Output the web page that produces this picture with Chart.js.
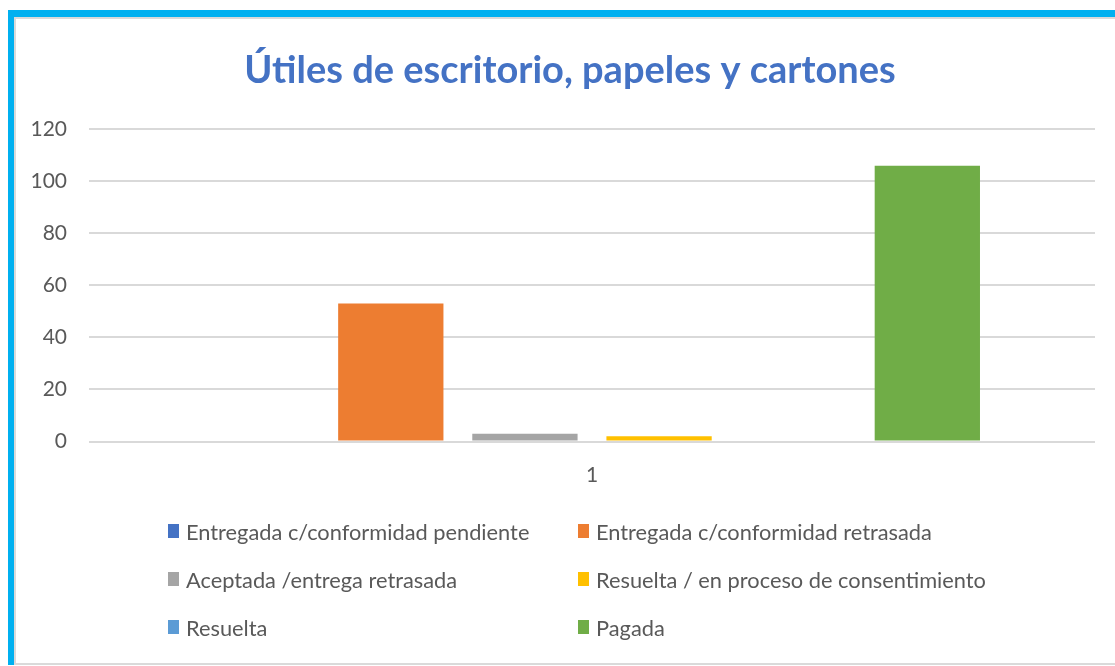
<!DOCTYPE html>
<html>
<head>
<meta charset="utf-8">
<script src="https://cdn.jsdelivr.net/npm/chart.js@4.4.0/dist/chart.umd.min.js"></script>
<style>
  html, body { margin:0; padding:0; background:#fff; }
  #wrap { position:relative; width:1115px; height:666px; overflow:hidden; background:#fff; }
  .frame { position:absolute; left:8px; top:10px; width:1120px; height:648px;
           border-left:6px solid #00B0F0; border-top:7px solid #00B0F0; }
  .frame .inner { position:absolute; left:0; top:0; right:0; bottom:0;
           border-left:2px solid #dadada; border-top:2px solid #dadada; border-bottom:2px solid #dadada; }
  canvas { position:absolute; left:0; top:0; }
  #legend { position:absolute; left:168px; top:517px; font-family:Lato, sans-serif; font-size:21.8px; color:#595959; }
  .item { position:absolute; display:flex; align-items:center; height:28px; white-space:nowrap; }
  .sw { width:11px; height:14px; margin-right:7px; flex:none; }
</style>
</head>
<body>
<div id="wrap">
  <div class="frame"><div class="inner"></div></div>
  <canvas id="c" width="1115" height="666"></canvas>
  <div id="legend"></div>
</div>
<script>
const categories = ['1'];
const seriesNames = [
  'Entregada c/conformidad pendiente',
  'Entregada c/conformidad retrasada',
  'Aceptada /entrega retrasada',
  'Resuelta / en proceso de consentimiento',
  'Resuelta',
  'Pagada'
];
const seriesValues = [0, 53, 3, 2, 0, 106];
const seriesColors = ['#4472C4', '#ED7D31', '#A5A5A5', '#FFC000', '#5B9BD5', '#70AD47'];
const yMin = 0, yMax = 120, yStep = 20;
const titleText = 'Útiles de escritorio, papeles y cartones';

const datasets = seriesNames.map((n, i) => ({
  label: n,
  data: [seriesValues[i]],
  backgroundColor: seriesColors[i],
  borderWidth: 0,
  categoryPercentage: 0.8,
  barPercentage: 0.785
}));

const titlePlugin = {
  id: 'titleAt',
  afterDraw(chart) {
    const ctx = chart.ctx;
    ctx.save();
    ctx.font = 'bold 38px Lato';
    ctx.fillStyle = '#4472C4';
    ctx.textAlign = 'center';
    ctx.textBaseline = 'alphabetic';
    ctx.fillText(titleText, 570, 83);
    ctx.restore();
  }
};

new Chart(document.getElementById('c'), {
  type: 'bar',
  data: { labels: categories, datasets },
  plugins: [titlePlugin],
  options: {
    responsive: false,
    animation: false,
    devicePixelRatio: 1,
    layout: { padding: { top: 129.3, left: 0, right: 20, bottom: 164.5 } },
    plugins: {
      legend: { display: false },
      tooltip: { enabled: false },
      title: { display: false }
    },
    scales: {
      x: {
        grid: { display: false },
        border: { display: false },
        ticks: { color: '#595959', font: { family: 'Lato', size: 21 }, padding: 13 },
        afterFit: s => { s.height = 60; }
      },
      y: {
        min: yMin, max: yMax,
        grid: { color: '#d9d9d9', lineWidth: 2, drawTicks: false },
        border: { display: false },
        ticks: { stepSize: yStep, color: '#595959', font: { family: 'Lato', size: 21 }, padding: 22 },
        afterFit: s => { s.width = 89; }
      }
    }
  }
});

// legend in two columns
const leg = document.getElementById('legend');
const colX = [0, 410], rowY = [0, 48, 96];
seriesNames.forEach((n, i) => {
  const d = document.createElement('div');
  d.className = 'item';
  d.style.left = colX[i % 2] + 'px';
  d.style.top = rowY[Math.floor(i / 2)] + 'px';
  const sw = document.createElement('span');
  sw.className = 'sw';
  sw.style.background = seriesColors[i];
  const t = document.createElement('span');
  t.textContent = n;
  d.appendChild(sw); d.appendChild(t);
  leg.appendChild(d);
});
</script>
</body>
</html>
